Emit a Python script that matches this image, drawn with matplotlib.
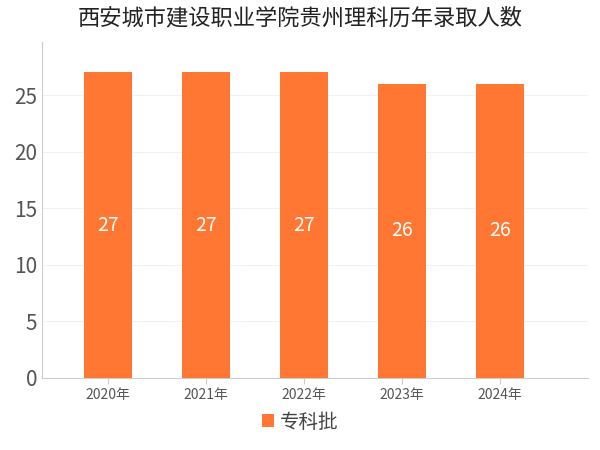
import matplotlib
matplotlib.use("Agg")
import matplotlib.pyplot as plt
from matplotlib import font_manager as fm

cjk = None
for f in fm.fontManager.ttflist:
    if "CJK" in f.name and ("SC" in f.name or cjk is None):
        cjk = f.name
if cjk is None:
    for p in fm.findSystemFonts():
        if "CJK" in p or "cjk" in p.lower():
            fm.fontManager.addfont(p)
            cjk = fm.FontProperties(fname=p).get_name()
            break
plt.rcParams["font.family"] = [cjk or "Noto Sans CJK SC", "DejaVu Sans"]

categories = ["2020年", "2021年", "2022年", "2023年", "2024年"]
values = [27, 27, 27, 26, 26]
series_name = "专科批"

fig = plt.figure(figsize=(6, 4.5), dpi=100)
ax = fig.add_axes([0.07, 0.16, 0.91, 0.747])
x = list(range(len(categories)))
bars = ax.bar(x, values, width=0.49, color="#FF7733", label=series_name, zorder=2)
for xi, v in zip(x, values):
    ax.text(xi, v / 2, str(v), ha="center", va="center", color="white", fontsize=14)
ax.set_xlim(-0.67, 4.9)
ax.set_ylim(0, 29.7)
ax.set_yticks([0, 5, 10, 15, 20, 25])
ax.set_xticks(x)
ax.set_xticklabels(categories, fontsize=10, color="#555555")
ax.tick_params(axis="y", labelsize=15, colors="#555555", length=0)
ax.tick_params(axis="x", length=4, color="#cccccc")
ax.grid(axis="y", color="#f2f2f2", linewidth=0.8, zorder=0)
for s in ["top", "right"]:
    ax.spines[s].set_visible(False)
ax.spines["left"].set_color("#cccccc")
ax.spines["bottom"].set_color("#cccccc")
fig.suptitle("西安城市建设职业学院贵州理科历年录取人数", x=0.5, y=0.985, fontsize=16, color="#222222")
fig.legend(handles=[bars], labels=[series_name], loc="lower center", bbox_to_anchor=(0.5, 0.0),
           frameon=False, fontsize=14, handlelength=0.6, handleheight=0.6, handletextpad=0.3,
           labelcolor="#444444")
fig.savefig("out.png")
